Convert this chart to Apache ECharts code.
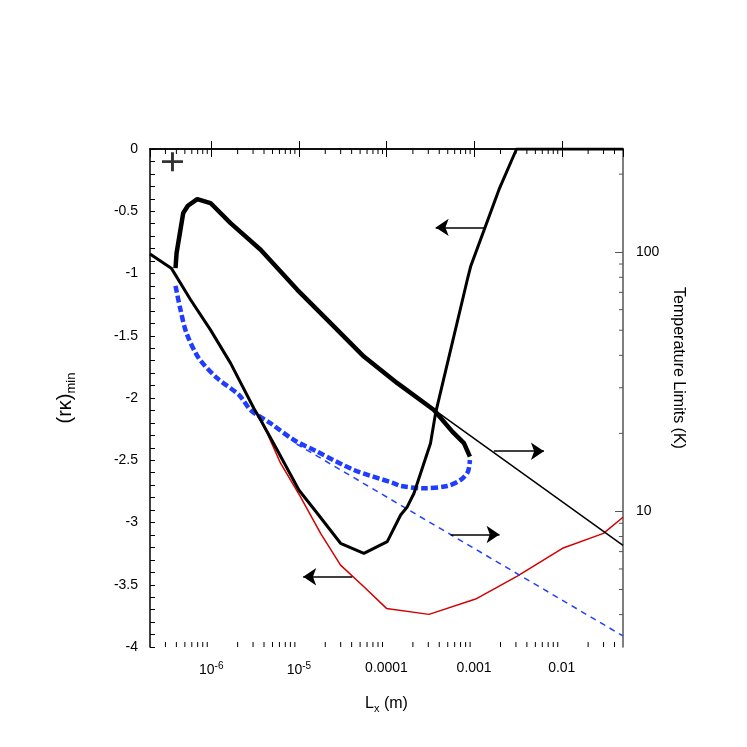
<!DOCTYPE html>
<html>
<head>
<meta charset="utf-8">
<script src="https://cdn.jsdelivr.net/npm/echarts@6/dist/echarts.min.js"></script>
<style>
html, body {margin:0; padding:0; background:#fff;}
#chart {width:747px; height:747px;}
</style>
</head>
<body>
<div id="chart"></div>
<script>
// left axis curves, (rκ)min against Lx (m)
const kappaUpper = [[3.91e-7,-0.957],[4.02e-7,-0.836],[4.79e-7,-0.514],[5.41e-7,-0.456],[6.92e-7,-0.402],
    [9.8e-7,-0.434],[1.66e-6,-0.595],[3.66e-6,-0.809],[9.6e-6,-1.131],[2.3e-5,-1.399],[5.52e-5,-1.667],
    [1.33e-4,-1.881],[3.48e-4,-2.096],[5.64e-4,-2.27],[7.65e-4,-2.363],[8.95e-4,-2.471]];
const kappaLower = [[3.91e-7,-1.099],[4.46e-7,-1.292],[5.22e-7,-1.479],[7.21e-7,-1.68],[1.17e-6,-1.841],
    [2.07e-6,-1.975],[2.83e-6,-2.098],[4.75e-6,-2.203],[8.77e-6,-2.337],[1.62e-5,-2.431],[4.25e-5,-2.578],
    [1.22e-4,-2.685],[1.45e-4,-2.707],[2.67e-4,-2.725],[4.94e-4,-2.707],[7.02e-4,-2.658],[8.49e-4,-2.592],
    [8.95e-4,-2.498]];
const kappaMin = [[2e-7,-0.844],[3.5e-7,-0.957],[5.81e-7,-1.211],[9.8e-7,-1.453],[1.66e-6,-1.72],
    [3.06e-6,-2.082],[3.65e-6,-2.174],[5.66e-6,-2.417],[1e-5,-2.739],[1.62e-5,-2.926],[2.99e-5,-3.167],
    [5.52e-5,-3.248],[1.02e-4,-3.154],[1.45e-4,-2.94],[1.73e-4,-2.873],[2.06e-4,-2.765],[3.18e-4,-2.363],
    [3.63e-4,-2.122],[8.36e-4,-1.05],[9.12e-4,-0.944],[1.92e-3,-0.327],[3.05e-3,0],[0.05,0]];
const kappaRed = [[3.4e-6,-2.14],[4.35e-6,-2.283],[6.18e-6,-2.524],[1.04e-5,-2.793],[1.77e-5,-3.087],
    [2.99e-5,-3.342],[5.52e-5,-3.516],[1e-4,-3.69],[3.05e-4,-3.738],[1.04e-3,-3.615],[3.11e-3,-3.43],
    [1.02e-2,-3.207],[2.99e-2,-3.087],[0.05,-2.958]];
// right axis lines, Temperature Limits (K)
const tempBlack = [[3.48e-4,24.7],[0.05,7.4]];
const tempBlue = [[9.42e-6,18.2],[0.05,3.31]];
// arrows: [x from, x to, y]
const arrowsLeft = [[1.35e-3,3.64e-4,-0.63],[4.07e-5,1.12e-5,-3.436]];
const arrowsRight = [[1.68e-3,6.26e-3,17.07],[5.4e-4,1.95e-3,8.15]];
const plusMark = [[3.61e-7,-0.102]];

const xMin = 2e-7, xMax = 0.05;
const tMin = 3, tMax = 250;
const FONT = 'Liberation Sans, Arial, sans-serif';

const chart = echarts.init(document.getElementById('chart'));

function arrowLines(list) {
    return list.map(a => [
        {coord:[a[0], a[2]], symbol:'none'},
        {coord:[a[1], a[2]], symbol:'arrow'}
    ]);
}
function arrowMark(list) {
    return {
        silent:true,
        symbolSize:13,
        label:{show:false},
        lineStyle:{color:'#000', width:1.5, type:'solid'},
        emphasis:{disabled:true},
        data:arrowLines(list)
    };
}

function xLabel(v) {
    let e = Math.round(Math.log10(v));
    if (Math.abs(v / Math.pow(10, e) - 1) > 1e-6) return '';
    if (e <= -5) return '{b|10}{s|' + e + '}';
    return '{b|' + Math.pow(10, e).toFixed(-e) + '}';
}

let options = {
    animation:false,
    backgroundColor:'#fff',
    grid:{left:150, right:124, top:149, bottom:100},
    xAxis:[{
        type:'log', min:xMin, max:xMax, position:'bottom',
        name:'L{sub|x} (m)', nameLocation:'middle', nameGap:47,
        nameTextStyle:{color:'#000', fontSize:16, fontFamily:FONT,
            rich:{sub:{fontSize:11, fontFamily:FONT, padding:[9,0,0,0]}}},
        axisLine:{lineStyle:{color:'#000', width:1.5}},
        axisTick:{inside:true, length:8, lineStyle:{color:'#000'}},
        splitLine:{show:false},
        axisLabel:{margin:14, showMinLabel:false, showMaxLabel:false, color:'#000', fontSize:14,
            fontFamily:FONT, formatter:xLabel,
            rich:{b:{fontSize:14, fontFamily:FONT, color:'#000'},
                  s:{fontSize:10, fontFamily:FONT, color:'#000', padding:[0,0,9,0]}}}
    }, {
        type:'log', min:xMin, max:xMax, position:'top',
        axisLine:{lineStyle:{color:'#000', width:1.5}},
        axisTick:{inside:true, length:8, lineStyle:{color:'#000'}},
        axisLabel:{show:false}, splitLine:{show:false}
    }],
    yAxis:[{
        type:'value', min:-4, max:0, interval:0.5, position:'left',
        name:'(rκ){sub|min}', nameLocation:'middle', nameRotate:90, nameGap:72,
        nameTextStyle:{color:'#000', fontSize:20, fontFamily:FONT,
            rich:{sub:{fontSize:13, fontFamily:FONT, padding:[12,0,0,0]}}},
        axisLine:{lineStyle:{color:'#000', width:1.5}},
        axisTick:{inside:true, length:5, lineStyle:{color:'#000'}},
        minorTick:{show:true, splitNumber:5, length:5, lineStyle:{color:'#000'}},
        splitLine:{show:false},
        axisLabel:{margin:12, color:'#000', fontSize:14, fontFamily:FONT}
    }, {
        type:'log', min:tMin, max:tMax, position:'right',
        name:'Temperature Limits (K)', nameLocation:'middle', nameRotate:-90, nameGap:47,
        nameTextStyle:{color:'#000', fontSize:16, fontFamily:FONT, padding:[0,60,0,0]},
        axisLine:{lineStyle:{color:'#555', width:1.5}},
        axisTick:{inside:true, length:8, lineStyle:{color:'#555'}},
        splitLine:{show:false},
        axisLabel:{margin:13, showMinLabel:false, showMaxLabel:false, color:'#000', fontSize:14, fontFamily:FONT}
    }],
    series:[{
        name:'red', type:'line', xAxisIndex:0, yAxisIndex:0, data:kappaRed,
        showSymbol:false, lineStyle:{color:'#d40000', width:1.5}, z:2,
        markLine:arrowMark([arrowsLeft[1]])
    }, {
        name:'tempBlue', type:'line', xAxisIndex:0, yAxisIndex:1, data:tempBlue,
        showSymbol:false, lineStyle:{color:'#2240ff', width:1.5, type:[6,5]}, z:2,
        markLine:arrowMark([arrowsRight[1]])
    }, {
        name:'tempBlack', type:'line', xAxisIndex:0, yAxisIndex:1, data:tempBlack,
        showSymbol:false, lineStyle:{color:'#000', width:1.5}, z:2,
        markLine:arrowMark([arrowsRight[0]])
    }, {
        name:'kappaLower', type:'line', xAxisIndex:0, yAxisIndex:0, data:kappaLower, smooth:0.3,
        showSymbol:false, lineStyle:{color:'#1f3cff', width:4.5, type:[7,3]}, z:3
    }, {
        name:'kappaUpper', type:'line', xAxisIndex:0, yAxisIndex:0, data:kappaUpper,
        showSymbol:false, lineStyle:{color:'#000', width:4.5}, z:3
    }, {
        name:'kappaMin', type:'line', xAxisIndex:0, yAxisIndex:0, data:kappaMin,
        showSymbol:false, lineStyle:{color:'#000', width:3}, z:4,
        markLine:arrowMark([arrowsLeft[0]])
    }, {
        name:'plus', type:'scatter', xAxisIndex:0, yAxisIndex:0, data:plusMark,
        symbol:'path://M4.3,0H5.7V4.3H10V5.7H5.7V10H4.3V5.7H0V4.3H4.3Z', symbolSize:[21,19],
        itemStyle:{color:'#000'}, silent:true, z:5
    }]
};
chart.setOption(options);

// minor ticks of the log axes (ECharts draws only the decades)
function tickLine(x1, y1, x2, y2, color) {
    return {type:'line', silent:true, z:10,
        shape:{x1:x1, y1:y1, x2:x2, y2:y2}, style:{stroke:color, lineWidth:1}};
}
function minorTicks() {
    let g = [];
    let top = chart.convertToPixel({yAxisIndex:0}, 0);
    let bottom = chart.convertToPixel({yAxisIndex:0}, -4);
    let right = chart.convertToPixel({xAxisIndex:0}, xMax);
    for (let e = -7; e <= -2; e++) {
        for (let k = 2; k <= 9; k++) {
            let v = k * Math.pow(10, e);
            if (v <= xMin * 1.0001 || v >= xMax * 0.9999) continue;
            let x = chart.convertToPixel({xAxisIndex:0}, v);
            g.push(tickLine(x, bottom, x, bottom - 5, '#000'));
            g.push(tickLine(x, top, x, top + 5, '#000'));
        }
    }
    for (let e = 0; e <= 2; e++) {
        for (let k = 2; k <= 9; k++) {
            let v = k * Math.pow(10, e);
            if (v <= tMin * 1.0001 || v >= tMax * 0.9999) continue;
            let y = chart.convertToPixel({yAxisIndex:1}, v);
            g.push(tickLine(right, y, right - 4, y, '#555'));
        }
    }
    return g;
}
chart.setOption({graphic:minorTicks()});
</script>
</body>
</html>
